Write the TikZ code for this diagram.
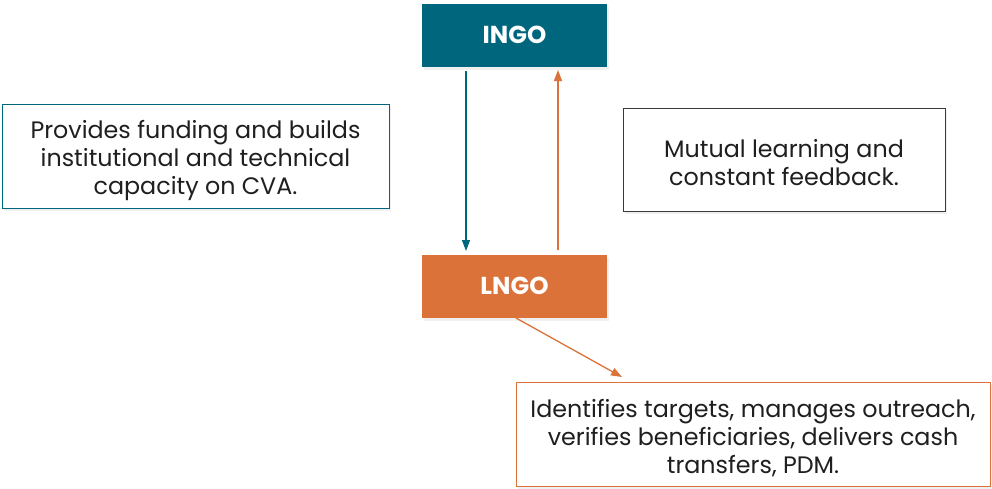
\documentclass[tikz,border=0pt]{standalone}
\usepackage{fontspec}
\setmainfont{Poppins}
\usetikzlibrary{arrows.meta,shadows,calc}
\definecolor{ingoteal}{HTML}{00667D}
\definecolor{lngoorange}{HTML}{DA7239}
\definecolor{boxgray}{HTML}{3A3A3A}
\tikzset{
  x=1pt, y=-1pt,
  softshadow/.style={drop shadow={opacity=0.12, shadow xshift=2pt, shadow yshift=-3pt}},
  orgbox/.style={rectangle, minimum width=185pt, minimum height=63pt, inner sep=0pt,
    text=white, font=\fontsize{24.5}{28}\selectfont\bfseries, softshadow},
  notebox/.style={rectangle, draw, fill=white, line width=0.8pt, inner sep=0pt, softshadow},
  notetext/.style={align=center, inner sep=0pt,
    font=\fontsize{23.8}{28}\selectfont, text=black!88},
  link/.style={line width=1.3pt, -{Triangle[length=11pt,width=8pt]}},
}
\begin{document}
\begin{tikzpicture}
\useasboundingbox (0,0) rectangle (992,488);
\node[orgbox, fill=ingoteal] (ingo) at (514.5,35) {INGO};
\node[orgbox, fill=lngoorange] (lngo) at (514.5,286) {LNGO};
% note boxes and their text
\node[notebox, draw=ingoteal, minimum width=387pt, minimum height=104pt] (fund) at (195.5,156) {};
\node[notetext] (fundtext) at ($(fund.center)+(0,4.5)$)
  {Provides funding and builds\\institutional and technical\\capacity on CVA.};
\node[notebox, draw=boxgray, minimum width=322pt, minimum height=103pt] (learn) at (784,159.5) {};
\node[notetext] (learntext) at ($(learn.center)+(0,3)$)
  {Mutual learning and\\constant feedback.};
\node[notebox, draw=lngoorange, minimum width=474pt, minimum height=104pt] (tasks) at (753,434) {};
\node[notetext] (taskstext) at ($(tasks.center)+(0,4)$)
  {Identifies targets, manages outreach,\\verifies beneficiaries, delivers cash\\transfers, PDM.};
% connectors
\coordinate (dstart) at (466,71);
\coordinate (dend) at (466,251);
\coordinate (ustart) at (558,250);
\coordinate (uend) at (558,70);
\coordinate (gstart) at (516,318);
\coordinate (gend) at (622,377);
\draw[link, ingoteal] (dstart) -- (dend);
\draw[link, lngoorange] (ustart) -- (uend);
\draw[link, lngoorange] (gstart) -- (gend);
\end{tikzpicture}
\end{document}
